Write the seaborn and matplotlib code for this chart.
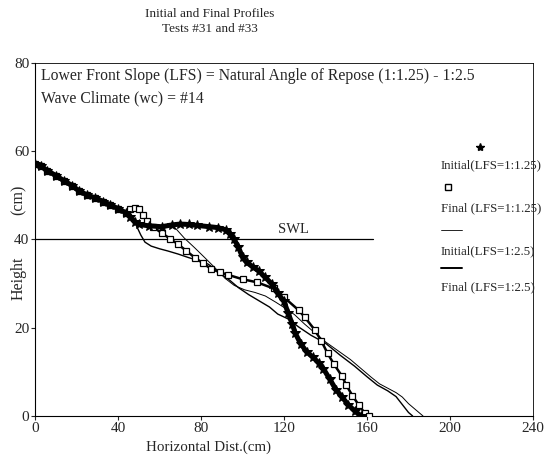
import numpy as np
import pandas as pd
import matplotlib
matplotlib.use("Agg")
import matplotlib.pyplot as plt
import seaborn as sns
from matplotlib.lines import Line2D

sns.set_style("white")
plt.rcParams['font.family'] = ['Liberation Serif', 'DejaVu Serif']

# ---- data ----
common_x = [0, 3, 6, 10, 14, 18, 21, 25, 29, 33, 36, 40, 44]
common_y = [57, 56.6, 55.6, 54.5, 53.3, 52.2, 51.1, 50.1, 49.4, 48.6, 47.9, 47.0, 46.0]

star_x = common_x + [46, 48, 50, 55, 61, 66, 70, 74, 78, 84, 88, 92, 94, 96, 98, 100, 102,
                     105, 108, 111, 114, 117, 120, 122, 124, 125.5, 128, 131, 134, 137, 139,
                     142, 145, 148, 151, 154, 157]
star_y = common_y + [45.2, 44.0, 43.4, 43.1, 42.9, 43.3, 43.5, 43.4, 43.2, 42.9, 42.7, 42.2,
                     41.3, 40.0, 38.3, 36.0, 34.8, 33.8, 32.8, 31.4, 30.0, 27.8, 26.0, 23.3,
                     20.8, 18.7, 16.4, 14.5, 13.3, 11.9, 10.7, 8.4, 6.0, 4.3, 2.5, 1.2, 0]

sq_x = common_x + [46, 48, 50, 52, 54, 57, 61, 65, 69, 73, 77, 81, 85, 89, 93, 100, 107,
                   115, 120, 127, 130, 135, 138, 141, 144, 148, 150, 153, 156, 159, 161]
sq_y = common_y + [47.0, 47.2, 46.8, 45.5, 44.2, 42.8, 41.5, 40.2, 38.9, 37.4, 35.9, 34.6,
                   33.3, 32.6, 32.0, 31.0, 30.3, 28.9, 26.9, 24.0, 22.4, 19.4, 17.0, 14.2,
                   11.8, 9.0, 7.0, 4.6, 2.5, 0.6, 0]

ini25_x = common_x + [47, 50, 58, 66, 68, 72, 77, 82, 86.7, 91.6, 96, 101, 106, 111, 116, 120,
                      125, 130, 135, 140, 146, 152, 157, 162, 166, 170, 174, 177, 180, 184, 187]
ini25_y = common_y + [45.0, 43.6, 43.2, 43.0, 42.4, 40.3, 38.1, 35.8, 33.6, 31.2, 29.6, 28.6,
                      28.0, 27.2, 25.8, 24.6, 23.0, 20.8, 18.8, 16.8, 14.8, 12.8, 10.8, 8.8,
                      7.3, 6.3, 5.3, 4.3, 2.8, 1.2, 0]

fin25_x = common_x + [47, 49, 51, 53, 56, 60, 64, 69, 74, 79, 83.5, 87, 90, 94, 98, 103, 108,
                      113, 117, 122, 127, 133, 140, 147, 154, 160, 165, 170, 174, 177, 180, 182]
fin25_y = common_y + [45.0, 43.0, 41.0, 39.4, 38.5, 37.9, 37.4, 36.7, 35.9, 35.2, 34.4, 33.2,
                      32.1, 30.7, 29.1, 27.5, 26.1, 24.7, 23.1, 22.0, 20.2, 18.3, 16.5, 13.8,
                      11.3, 8.9, 7.0, 5.7, 4.4, 2.6, 0.8, 0]

labels = ["Initial(LFS=1:1.25)", "Final (LFS=1:1.25)", "Initial(LFS=1:2.5)", "Final (LFS=1:2.5)"]
x_ticks = [0, 40, 80, 120, 160, 200, 240]
y_ticks = [0, 20, 40, 60, 80]
swl_level = 40
swl_end = 163

# ---- figure ----
fig = plt.figure(figsize=(5.44, 4.59), dpi=100)
ax = fig.add_axes([35/544, 1-416/459, 498/544, 353/459])

df_star = pd.DataFrame({"x": star_x, "y": star_y})
df_sq = pd.DataFrame({"x": sq_x, "y": sq_y})
df_i25 = pd.DataFrame({"x": ini25_x, "y": ini25_y})
df_f25 = pd.DataFrame({"x": fin25_x, "y": fin25_y})

ax.plot([0, swl_end], [swl_level, swl_level], color="black", lw=0.9, zorder=1)

sns.lineplot(data=df_i25, x="x", y="y", sort=False, estimator=None, ax=ax,
             color="black", lw=0.7, zorder=2)
sns.lineplot(data=df_f25, x="x", y="y", sort=False, estimator=None, ax=ax,
             color="black", lw=1.0, zorder=2)
sns.lineplot(data=df_sq, x="x", y="y", sort=False, estimator=None, ax=ax,
             color="black", lw=1.8, marker="s", markersize=4.5,
             markerfacecolor="white", markeredgecolor="black", markeredgewidth=0.9, zorder=3)
sns.lineplot(data=df_star, x="x", y="y", sort=False, estimator=None, ax=ax,
             color="black", lw=3.6, marker="*", markersize=7, markeredgecolor="black", zorder=4)

ax.set_xlim(0, 240)
ax.set_ylim(0, 80)
ax.set_xticks(x_ticks)
ax.set_yticks(y_ticks)
ax.tick_params(axis="both", direction="out", length=3, width=0.8, labelsize=11, pad=1,
               bottom=True, left=True)
for s in ax.spines.values():
    s.set_color("black")
    s.set_linewidth(0.8)
ax.spines["top"].set_linewidth(0.6)
ax.spines["right"].set_linewidth(0.6)

ax.set_xlabel("Horizontal Dist.(cm)", fontsize=10.8)
ax.xaxis.set_label_coords((209-35)/498, -0.07)
ax.set_ylabel("")


def fx(px):
    return (px-35)/498


def fy(py):
    return (416-py)/353


# y-axis label split around the "40" tick label, as in the reference
ax.text(fx(19), fy(278), "Height", rotation=90, transform=ax.transAxes,
        fontsize=11.5, ha="center", va="center")
ax.text(fx(19), fy(200), "(cm)", rotation=90, transform=ax.transAxes,
        fontsize=11.5, ha="center", va="center")

ax.text(0.012, 0.962, "Lower Front Slope (LFS) = Natural Angle of Repose (1:1.25) - 1:2.5",
        transform=ax.transAxes, fontsize=11.3, va="center", ha="left")
ax.text(0.012, 0.9, "Wave Climate (wc) = #14",
        transform=ax.transAxes, fontsize=11.3, va="center", ha="left")
ax.text(117, 42.3, "SWL", fontsize=10.5, ha="left", va="center")

fig.text(210/544, 1-14/459, "Initial and Final Profiles", ha="center", va="center", fontsize=9.5)
fig.text(210/544, 1-29/459, "Tests #31 and #33", ha="center", va="center", fontsize=9.5)

# legend (marker above text)
leg_fs = 9.3
ax.add_line(Line2D([fx(480)], [fy(147)], marker="*", color="black", markersize=6,
                   ls="none", transform=ax.transAxes, clip_on=False))
ax.text(fx(441), fy(165), labels[0], transform=ax.transAxes, fontsize=leg_fs, va="center")
ax.add_line(Line2D([fx(448)], [fy(187)], marker="s", color="black", markersize=5,
                   markerfacecolor="white", ls="none", transform=ax.transAxes))
ax.text(fx(441), fy(208), labels[1], transform=ax.transAxes, fontsize=leg_fs, va="center")
ax.add_line(Line2D([fx(441), fx(462)], [fy(230), fy(230)], color="black", lw=0.6,
                   transform=ax.transAxes))
ax.text(fx(441), fy(251), labels[2], transform=ax.transAxes, fontsize=leg_fs, va="center")
ax.add_line(Line2D([fx(441), fx(462)], [fy(268), fy(268)], color="black", lw=1.4,
                   transform=ax.transAxes))
ax.text(fx(441), fy(287), labels[3], transform=ax.transAxes, fontsize=leg_fs, va="center")

fig.savefig("out.png", dpi=100)
